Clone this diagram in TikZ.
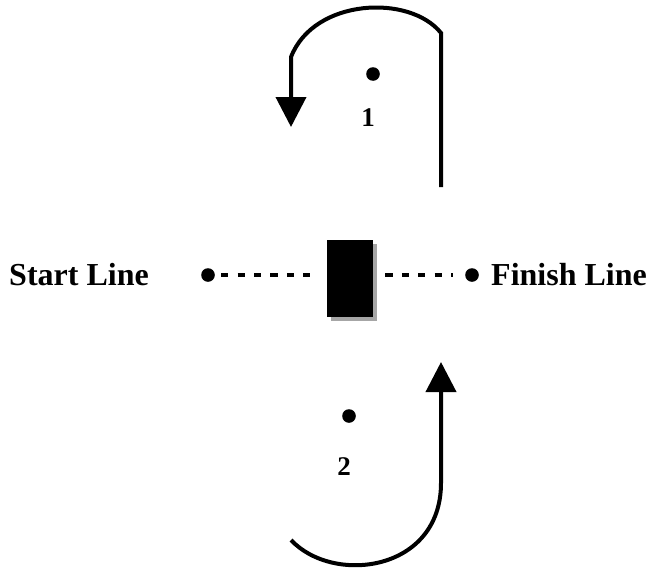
\documentclass[tikz,border=0pt]{standalone}
\usepackage{fontspec}
\setmainfont{Liberation Serif}
\usetikzlibrary{arrows.meta,shadows}
\begin{document}
\begin{tikzpicture}[x=0.5pt,y=-0.5pt,
    dot/.style={circle,fill=black,inner sep=0pt,minimum size=6.8pt},
    lbl/.style={font=\bfseries\fontsize{16}{18}\selectfont},
    num/.style={font=\bfseries\fontsize{13.5}{15}\selectfont},
    turn/.style={line width=2pt,-{Triangle[width=15pt,length=15pt]}},
    track/.style={line width=1.6pt,dash pattern=on 3.6pt off 4.6pt}]
    \useasboundingbox (0,0) rectangle (652,573);
    \def\r{441}
    \def\l{291}
    % start and finish
    \node [lbl] (S0) at (79,275) {Start Line};
    \node [lbl] (F0) at (569,275) {Finish Line};
    \node [dot] (S1) at (208,275) {};
    \node [dot] (F1) at (472,275) {};
    \node [fill=black,minimum width=23pt,minimum height=38.5pt,inner sep=0pt,
      drop shadow={shadow xshift=2pt,shadow yshift=-2pt,fill=black!35,opacity=1}]
      (B0) at (350,278.5) {};
    \path (S1) edge [track,shorten <=3pt,shorten >=4pt] (B0.west |- S1);
    \path (B0.east |- F1) edge [track,shorten <=6pt,shorten >=6pt] (F1);
    % turn 1
    \node [dot] (D1) at (373,74) {};
    \node [num] (N1) at (368,118) {1};
    \coordinate (T0) at (\r,187);
    \coordinate (T1) at (\r,33);
    \coordinate (T2) at (\l,57);
    \coordinate (T3) at (\l,127);
    \draw [turn] (T0) -- (T1) .. controls (410,-6) and (314,-2) .. (T2) -- (T3);
    % turn 2
    \node [dot] (D2) at (349,416) {};
    \node [num] (N2) at (344,467) {2};
    \coordinate (U0) at (\l,540);
    \coordinate (U1) at (\r,483);
    \coordinate (U2) at (\r,362);
    \draw [turn] (U0) .. controls (333,585) and (\r,572) .. (U1) -- (U2);
\end{tikzpicture}
\end{document}
